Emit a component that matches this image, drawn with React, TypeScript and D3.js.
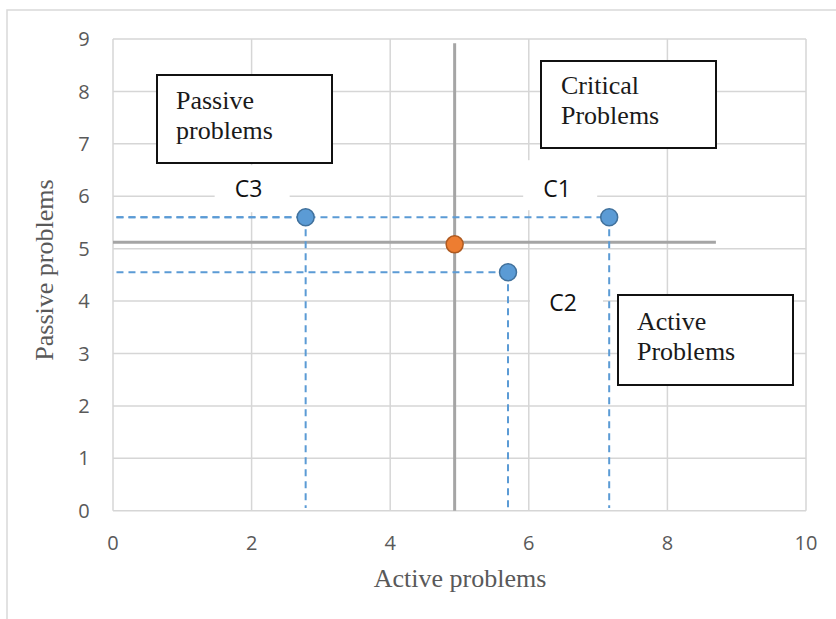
import React from "react";
import * as d3 from "d3";

const pointLabels = ["C1", "C2", "C3"];
const activeVals = [7.16, 5.7, 2.78];
const passiveVals = [5.6, 4.55, 5.6];
const meanActive = 4.93;
const meanPassive = 5.12;
const xTicks = [0, 2, 4, 6, 8, 10];
const yTicks = [0, 1, 2, 3, 4, 5, 6, 7, 8, 9];
const quadrantTitles = [
  ["Passive", "problems"],
  ["Critical", "Problems"],
  ["Active", "Problems"],
];

const W = 836;
const H = 619;
const x = d3.scaleLinear().domain([0, 10]).range([113, 806]);
const y = d3.scaleLinear().domain([0, 9]).range([510.7, 39]);

const GRID = "#d6d6d6";
const TICK = "#595959";
const BLUE = "#5B9BD5";
const BLUE_DARK = "#41719C";
const ORANGE = "#ED7D31";
const ORANGE_DARK = "#AE5A21";
const MEAN = "#a5a5a5";
const SANS = "'Open Sans', sans-serif";
const SERIF = "'Liberation Serif', 'Times New Roman', serif";

// label placement (pixel offsets from the point), and background boxes
const labelOffsets = [
  { dx: -52, dy: -20, bx: -86, by: -57, bw: 74, bh: 50 },
  { dx: 55, dy: 39, bx: 22, by: 16, bw: 73, bh: 45 },
  { dx: -57, dy: -20, bx: -91, by: -52, bw: 75, bh: 47 },
];
const boxes = [
  { x: 157, y: 75, w: 175, h: 88, tx: 176, ty: 109 },
  { x: 541, y: 61, w: 175, h: 87, tx: 561, ty: 94 },
  { x: 618, y: 295, w: 175, h: 90, tx: 637, ty: 330 },
];

export default function App() {
  return (
    <svg
      width={W}
      height={H}
      style={{ position: "absolute", left: 0, top: 0, background: "#fff" }}
    >
      <rect x={7} y={10} width={900} height={700} fill="#fff" stroke="#d9d9d9" strokeWidth={1.5} />
      {/* grid */}
      {xTicks.map((t) => (
        <line key={"gx" + t} x1={x(t)} x2={x(t)} y1={y(9)} y2={y(0)} stroke={GRID} strokeWidth={1.5} />
      ))}
      {yTicks.map((t) => (
        <line key={"gy" + t} x1={x(0)} x2={x(10)} y1={y(t)} y2={y(t)} stroke={GRID} strokeWidth={1.5} />
      ))}
      {/* tick labels */}
      {xTicks.map((t) => (
        <text key={"tx" + t} x={x(t)} y={y(0) + 39} textAnchor="middle" fontFamily={SANS} fontSize={20} fill={TICK}>
          {t}
        </text>
      ))}
      {yTicks.map((t) => (
        <text key={"ty" + t} x={84} y={y(t)} dy="0.36em" textAnchor="middle" fontFamily={SANS} fontSize={20} fill={TICK}>
          {t}
        </text>
      ))}
      {/* axis titles */}
      <text x={460} y={587} textAnchor="middle" fontFamily={SERIF} fontSize={26} fill={TICK}>
        Active problems
      </text>
      <text
        transform={`translate(53,${270}) rotate(-90)`}
        textAnchor="middle"
        fontFamily={SERIF}
        fontSize={26}
        fill={TICK}
      >
        Passive problems
      </text>
      {/* label backgrounds */}
      {pointLabels.map((l, i) => {
        const o = labelOffsets[i];
        return (
          <rect
            key={"lb" + l}
            x={x(activeVals[i]) + o.bx}
            y={y(passiveVals[i]) + o.by}
            width={o.bw}
            height={o.bh}
            fill="#fff"
          />
        );
      })}
      {/* mean lines */}
      <line x1={x(meanActive)} x2={x(meanActive)} y1={y(8.92)} y2={y(0)} stroke={MEAN} strokeWidth={3} />
      <line x1={x(0)} x2={x(8.7)} y1={y(meanPassive)} y2={y(meanPassive)} stroke={MEAN} strokeWidth={3} />
      {/* dashed drop lines */}
      {pointLabels.map((l, i) => (
        <g key={"dl" + l}>
          <line
            x1={x(activeVals[i])}
            x2={x(activeVals[i])}
            y1={y(passiveVals[i])}
            y2={y(0.05)}
            stroke={BLUE}
            strokeWidth={2}
            strokeDasharray="7,5"
          />
          <line
            x1={x(0.05)}
            x2={x(activeVals[i])}
            y1={y(passiveVals[i])}
            y2={y(passiveVals[i])}
            stroke={BLUE}
            strokeWidth={2}
            strokeDasharray="7,5"
          />
        </g>
      ))}
      {/* points */}
      {pointLabels.map((l, i) => (
        <circle
          key={"pt" + l}
          cx={x(activeVals[i])}
          cy={y(passiveVals[i])}
          r={8.5}
          fill={BLUE}
          stroke={BLUE_DARK}
          strokeWidth={1.5}
        />
      ))}
      <circle cx={x(meanActive)} cy={y(meanPassive) + 2} r={8.5} fill={ORANGE} stroke={ORANGE_DARK} strokeWidth={1.5} />
      {/* point labels */}
      {pointLabels.map((l, i) => {
        const o = labelOffsets[i];
        return (
          <text
            key={"lt" + l}
            x={x(activeVals[i]) + o.dx}
            y={y(passiveVals[i]) + o.dy}
            textAnchor="middle"
            fontFamily={SANS}
            fontSize={23}
            fill="#111"
          >
            {l}
          </text>
        );
      })}
      {/* quadrant boxes */}
      {boxes.map((b, i) => (
        <g key={"bx" + i}>
          <rect x={b.x} y={b.y} width={b.w} height={b.h} fill="#fff" stroke="#111" strokeWidth={2} />
          <text x={b.tx} y={b.ty} fontFamily={SERIF} fontSize={26} fill="#1a1a1a">
            {quadrantTitles[i][0]}
          </text>
          <text x={b.tx} y={b.ty + 30} fontFamily={SERIF} fontSize={26} fill="#1a1a1a">
            {quadrantTitles[i][1]}
          </text>
        </g>
      ))}
    </svg>
  );
}
